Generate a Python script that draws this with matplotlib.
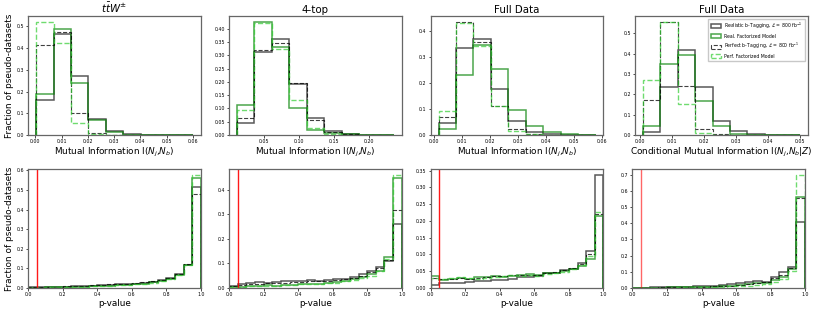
import numpy as np
import matplotlib
matplotlib.use("Agg")
import matplotlib.pyplot as plt

# ---------------- data ----------------
# Mutual information histograms: (min, max) of bin range, 9 bins each
mi_ranges = [(0.0003, 0.0600), (0.011, 0.235), (0.0015, 0.0576), (0.0010, 0.0500)]
n_mi_bins = 9

# ttW
mi_ttw_real = [0.160, 0.465, 0.270, 0.075, 0.020, 0.004, 0.002, 0.001, 0.001]
mi_ttw_realfact = [0.190, 0.487, 0.238, 0.068, 0.013, 0.002, 0.001, 0.001, 0.0005]
mi_ttw_perf = [0.415, 0.475, 0.100, 0.008, 0.002, 0.0005, 0.0, 0.0, 0.0]
mi_ttw_perffact = [0.520, 0.424, 0.054, 0.003, 0.001, 0.0, 0.0, 0.0, 0.0]
# 4-top
mi_4t_real = [0.044, 0.313, 0.362, 0.193, 0.066, 0.016, 0.004, 0.001, 0.001]
mi_4t_realfact = [0.112, 0.425, 0.330, 0.100, 0.021, 0.006, 0.003, 0.002, 0.001]
mi_4t_perf = [0.063, 0.319, 0.347, 0.196, 0.057, 0.012, 0.004, 0.001, 0.001]
mi_4t_perffact = [0.095, 0.419, 0.322, 0.130, 0.028, 0.005, 0.001, 0.0, 0.0]
# Full data
mi_fd_real = [0.045, 0.335, 0.370, 0.178, 0.054, 0.010, 0.004, 0.002, 0.001]
mi_fd_realfact = [0.022, 0.231, 0.346, 0.254, 0.097, 0.034, 0.011, 0.004, 0.001]
mi_fd_perf = [0.071, 0.435, 0.357, 0.110, 0.024, 0.004, 0.001, 0.0, 0.0]
mi_fd_perffact = [0.094, 0.432, 0.342, 0.112, 0.017, 0.003, 0.0, 0.0, 0.0]
# Full data, conditional MI
mi_cmi_real = [0.016, 0.234, 0.416, 0.236, 0.071, 0.021, 0.004, 0.001, 0.0005]
mi_cmi_realfact = [0.045, 0.347, 0.391, 0.168, 0.045, 0.006, 0.002, 0.0, 0.0]
mi_cmi_perf = [0.170, 0.556, 0.243, 0.030, 0.003, 0.0, 0.0, 0.0, 0.0]
mi_cmi_perffact = [0.269, 0.556, 0.153, 0.012, 0.002, 0.0, 0.0, 0.0, 0.0]

# p-value histograms: 20 bins on [0, 1]
pv_ttw_real = [0.003, 0.003, 0.004, 0.005, 0.006, 0.008, 0.010, 0.012, 0.013, 0.015,
               0.018, 0.020, 0.022, 0.025, 0.032, 0.040, 0.050, 0.070, 0.118, 0.515]
pv_ttw_realfact = [0.002, 0.002, 0.003, 0.004, 0.005, 0.006, 0.007, 0.009, 0.010, 0.012,
                   0.015, 0.017, 0.020, 0.022, 0.028, 0.038, 0.048, 0.065, 0.118, 0.560]
pv_ttw_perf = [0.004, 0.004, 0.005, 0.006, 0.008, 0.010, 0.012, 0.014, 0.016, 0.018,
               0.020, 0.022, 0.025, 0.030, 0.035, 0.042, 0.052, 0.072, 0.120, 0.478]
pv_ttw_perffact = [0.002, 0.002, 0.003, 0.003, 0.004, 0.005, 0.006, 0.008, 0.009, 0.011,
                   0.013, 0.016, 0.019, 0.022, 0.027, 0.036, 0.046, 0.065, 0.115, 0.578]

pv_4t_real = [0.010, 0.018, 0.022, 0.024, 0.022, 0.025, 0.027, 0.028, 0.030, 0.032,
              0.030, 0.033, 0.035, 0.036, 0.045, 0.055, 0.070, 0.085, 0.110, 0.263]
pv_4t_realfact = [0.005, 0.006, 0.008, 0.010, 0.012, 0.008, 0.012, 0.013, 0.015, 0.018,
                  0.018, 0.020, 0.025, 0.030, 0.035, 0.045, 0.055, 0.070, 0.125, 0.450]
pv_4t_perf = [0.008, 0.012, 0.015, 0.018, 0.020, 0.020, 0.022, 0.024, 0.026, 0.028,
              0.030, 0.030, 0.032, 0.035, 0.042, 0.050, 0.065, 0.080, 0.115, 0.317]
pv_4t_perffact = [0.004, 0.005, 0.007, 0.009, 0.010, 0.010, 0.012, 0.013, 0.015, 0.016,
                  0.018, 0.020, 0.022, 0.028, 0.034, 0.042, 0.050, 0.068, 0.120, 0.462]

pv_fd_real = [0.010, 0.015, 0.016, 0.015, 0.018, 0.022, 0.020, 0.024, 0.025, 0.027,
              0.032, 0.034, 0.036, 0.044, 0.046, 0.054, 0.058, 0.075, 0.110, 0.338]
pv_fd_realfact = [0.037, 0.025, 0.026, 0.030, 0.028, 0.034, 0.032, 0.036, 0.034, 0.036,
                  0.040, 0.042, 0.040, 0.045, 0.046, 0.052, 0.057, 0.065, 0.088, 0.215]
pv_fd_perf = [0.030, 0.028, 0.028, 0.030, 0.028, 0.030, 0.032, 0.035, 0.036, 0.040,
              0.038, 0.040, 0.038, 0.045, 0.048, 0.055, 0.060, 0.072, 0.100, 0.220]
pv_fd_perffact = [0.030, 0.026, 0.030, 0.034, 0.030, 0.028, 0.030, 0.033, 0.036, 0.038,
                  0.036, 0.040, 0.036, 0.042, 0.046, 0.048, 0.058, 0.070, 0.095, 0.228]

pv_cmi_real = [0.001, 0.001, 0.005, 0.004, 0.005, 0.006, 0.008, 0.010, 0.012, 0.015,
               0.018, 0.022, 0.028, 0.035, 0.045, 0.040, 0.065, 0.100, 0.130, 0.405]
pv_cmi_realfact = [0.001, 0.001, 0.002, 0.002, 0.003, 0.004, 0.005, 0.006, 0.007, 0.009,
                   0.011, 0.014, 0.018, 0.022, 0.030, 0.032, 0.050, 0.070, 0.120, 0.560]
pv_cmi_perf = [0.001, 0.001, 0.002, 0.003, 0.003, 0.004, 0.005, 0.006, 0.008, 0.010,
               0.012, 0.015, 0.020, 0.025, 0.032, 0.035, 0.060, 0.080, 0.125, 0.555]
pv_cmi_perffact = [0.000, 0.001, 0.001, 0.002, 0.002, 0.003, 0.003, 0.004, 0.005, 0.006,
                   0.008, 0.010, 0.012, 0.015, 0.020, 0.025, 0.040, 0.055, 0.105, 0.700]

titles = [r"$t\bar{t}W^{\pm}$", "4-top", "Full Data", "Full Data"]
mi_xlabels = [r"Mutual Information I($N_j$,$N_b$)"] * 3 + \
             [r"Conditional Mutual Information I($N_j$,$N_b$|$Z$)"]
mi_xticks = [[0.00, 0.01, 0.02, 0.03, 0.04, 0.05, 0.06],
             [0.05, 0.10, 0.15, 0.20],
             [0.00, 0.01, 0.02, 0.03, 0.04, 0.05, 0.06],
             [0.00, 0.01, 0.02, 0.03, 0.04, 0.05]]
pv_xticks = [0.0, 0.2, 0.4, 0.6, 0.8, 1.0]
p_threshold = 0.05
n_pv_bins = 20

legend_labels = [r"Realistic b-Tagging, $\mathcal{L}$ = 800 fb$^{-1}$",
                 "Real. Factorized Model",
                 r"Perfect b-Tagging, $\mathcal{L}$ = 800 fb$^{-1}$",
                 "Perf. Factorized Model"]

mi_data = [[mi_ttw_real, mi_ttw_realfact, mi_ttw_perf, mi_ttw_perffact],
           [mi_4t_real, mi_4t_realfact, mi_4t_perf, mi_4t_perffact],
           [mi_fd_real, mi_fd_realfact, mi_fd_perf, mi_fd_perffact],
           [mi_cmi_real, mi_cmi_realfact, mi_cmi_perf, mi_cmi_perffact]]
pv_data = [[pv_ttw_real, pv_ttw_realfact, pv_ttw_perf, pv_ttw_perffact],
           [pv_4t_real, pv_4t_realfact, pv_4t_perf, pv_4t_perffact],
           [pv_fd_real, pv_fd_realfact, pv_fd_perf, pv_fd_perffact],
           [pv_cmi_real, pv_cmi_realfact, pv_cmi_perf, pv_cmi_perffact]]

styles = [dict(color="black", ls="-", alpha=0.65, lw=1.1),
          dict(color="green", ls="-", alpha=0.7, lw=1.1),
          dict(color="black", ls="--", alpha=0.75, lw=0.8),
          dict(color="limegreen", ls="--", alpha=0.7, lw=1.0)]

# ---------------- figure ----------------
fig = plt.figure(figsize=(8.3, 3.12), dpi=100)
lefts = [0.034, 0.276, 0.519, 0.765]
width = 0.208
top_bottom, bot_bottom, height = 0.567, 0.077, 0.381

TICK_FS = 3.4
LAB_FS = 6.4
TITLE_FS = 7.4

def style_axes(ax):
    ax.tick_params(labelsize=TICK_FS, length=1.8, width=0.5, pad=1.2)
    for s in ax.spines.values():
        s.set_color("#666666")
        s.set_linewidth(0.9)

for i in range(4):
    ax = fig.add_axes([lefts[i], top_bottom, width, height])
    lo, hi = mi_ranges[i]
    edges = np.linspace(lo, hi, n_mi_bins + 1)
    centers = 0.5 * (edges[:-1] + edges[1:])
    for vals, st, lab in zip(mi_data[i], styles, legend_labels):
        ax.hist(centers, bins=edges, weights=vals, histtype="step",
                label=lab, **st)
    ax.set_xticks(mi_xticks[i])
    ax.set_xticklabels([f"{t:.2f}" for t in mi_xticks[i]])
    ax.set_title(titles[i], fontsize=TITLE_FS, pad=2)
    ax.set_xlabel(mi_xlabels[i], fontsize=LAB_FS, labelpad=1)
    style_axes(ax)
    if i == 0:
        ax.set_ylabel("Fraction of pseudo-datasets", fontsize=LAB_FS, labelpad=2)
    if i == 3:
        ax.legend(loc="upper right", fontsize=3.3, frameon=True,
                  handlelength=2.2, handleheight=0.9, borderpad=0.5,
                  labelspacing=0.55, fancybox=False, edgecolor="#bbbbbb")

for i in range(4):
    ax = fig.add_axes([lefts[i] - (0.003 if i == 3 else 0.0), bot_bottom, width, height])
    edges = np.linspace(0.0, 1.0, n_pv_bins + 1)
    centers = 0.5 * (edges[:-1] + edges[1:])
    for vals, st, lab in zip(pv_data[i], styles, legend_labels):
        ax.hist(centers, bins=edges, weights=vals, histtype="step",
                label=lab, **st)
    ax.axvline(p_threshold, color="red", lw=1.0, alpha=0.9 if i < 3 else 0.6)
    ax.set_xlim(0, 1)
    ax.set_xticks(pv_xticks)
    ax.set_xticklabels([f"{t:.1f}" for t in pv_xticks])
    ax.set_xlabel("p-value", fontsize=LAB_FS, labelpad=1)
    style_axes(ax)
    if i == 0:
        ax.set_ylabel("Fraction of pseudo-datasets", fontsize=LAB_FS, labelpad=2)

fig.savefig("out.png", dpi=100)
